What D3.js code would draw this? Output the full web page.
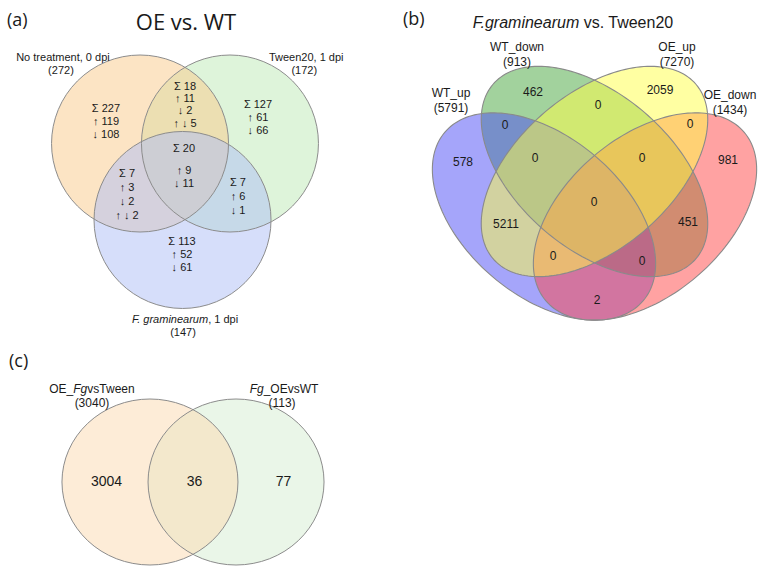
<!DOCTYPE html>
<html>
<head>
<meta charset="utf-8">
<script src="https://cdn.jsdelivr.net/npm/d3@7"></script>
<style>
  html, body { margin: 0; padding: 0; background: #ffffff; }
  svg { display: block; }
  text { font-family: "Liberation Sans", Arial, sans-serif; fill: #1a1a1a; }
  .panel { font-family: "Open Sans", "DejaVu Sans", sans-serif; }
</style>
</head>
<body>
<svg id="chart" width="769" height="575"></svg>
<script>
// ---------------- DATA ----------------
// Panel (a): OE vs. WT, three sets
const setsA = [
  [["No treatment, 0 dpi", false]],
  [["Tween20, 1 dpi", false]],
  [["F. graminearum", true], [", 1 dpi", false]]
];
const setTotalsA = [272, 172, 147];
const regionsA = ["A", "AB", "B", "ABC", "AC", "BC", "C"];
const sumA     = [227, 18, 127, 20, 7, 7, 113];
const upA      = [119, 11, 61, 9, 3, 6, 52];
const downA    = [108, 2, 66, 11, 2, 1, 61];
const upDownA  = [null, 5, null, null, 2, null, null];

// Panel (b): F.graminearum vs. Tween20, four sets
const setsB = ["WT_up", "WT_down", "OE_up", "OE_down"];
const setTotalsB = [5791, 913, 7270, 1434];
const regionsB = ["1", "2", "3", "4", "12", "23", "34", "123", "234", "1234", "13", "24", "134", "124", "14"];
const countsB  = [578, 462, 2059, 981, 0, 0, 0, 0, 0, 0, 5211, 451, 0, 0, 2];

// Panel (c): two sets
const setsC = [
  [["OE_", false], ["Fg", true], ["vsTween", false]],
  [["Fg", true], ["_OEvsWT", false]]
];
const setTotalsC = [3040, 113];
const regionsC = ["1", "12", "2"];
const countsC  = [3004, 36, 77];

// ---------------- LAYOUT ----------------
const svg = d3.select("#chart");
svg.append("rect").attr("width", 769).attr("height", 575).attr("fill", "#ffffff");

function addLabel(g, segs, x, y, size, anchor) {
  const t = g.append("text").attr("x", x).attr("y", y)
    .attr("font-size", size).attr("text-anchor", anchor || "middle");
  segs.forEach(s => t.append("tspan").text(s[0]).attr("font-style", s[1] ? "italic" : "normal"));
  return t;
}

// ===== Panel (a) =====
const gA = svg.append("g");
const xA = d3.scaleLinear().domain([-1, 1]).range([185 - 88.5, 185 + 88.5]);
const yA = d3.scaleLinear().domain([-1, 1]).range([169 - 88.5, 169 + 88.5]);
// drawing order: green, orange, blue
const circlesA = [
  { u:  0.508, v: -0.288, fill: "rgb(189,233,181)" },
  { u: -0.508, v: -0.288, fill: "rgb(249,201,137)" },
  { u: -0.028, v:  0.576, fill: "rgb(173,189,245)" }
];
gA.selectAll("circle.fill").data(circlesA).join("circle")
  .attr("cx", d => xA(d.u)).attr("cy", d => yA(d.v))
  .attr("r", xA(1) - xA(0))
  .attr("fill", d => d.fill).attr("fill-opacity", 0.5).attr("stroke", "none");
gA.selectAll("circle.line").data(circlesA).join("circle")
  .attr("cx", d => xA(d.u)).attr("cy", d => yA(d.v))
  .attr("r", xA(1) - xA(0))
  .attr("fill", "none").attr("stroke", "#8c8c8c").attr("stroke-width", 1);

// region label anchors (unit coordinates) and line gaps
const regionPosA = {
  A:   { u: -0.893, v: -0.644, gaps: [13, 13, 13] },
  AB:  { u:  0.000, v: -0.898, gaps: [12, 12.5, 13] },
  B:   { u:  0.825, v: -0.689, gaps: [13, 13, 13] },
  ABC: { u: -0.011, v: -0.192, gaps: [22, 13, 13] },
  AC:  { u: -0.655, v:  0.090, gaps: [14, 14, 14] },
  BC:  { u:  0.599, v:  0.192, gaps: [14, 14, 14] },
  C:   { u: -0.034, v:  0.864, gaps: [12.5, 13, 13] }
};
regionsA.forEach((r, i) => {
  const p = regionPosA[r];
  const lines = ["\u03A3 " + sumA[i], "\u2191 " + upA[i], "\u2193 " + downA[i]];
  if (upDownA[i] !== null) lines.push("\u2191 \u2193 " + upDownA[i]);
  let y = yA(p.v);
  lines.forEach((ln, k) => {
    if (k > 0) y += p.gaps[k - 1];
    gA.append("text").attr("x", xA(p.u)).attr("y", y)
      .attr("font-size", 11).attr("text-anchor", "middle").text(ln);
  });
});
const setPosA = [
  { u: -1.379, v: -1.221 },
  {  u: 1.370, v: -1.221 },
  {  u: 0.000, v:  1.740 }
];
setsA.forEach((s, i) => {
  const p = setPosA[i];
  addLabel(gA, s, xA(p.u), yA(p.v), 11);
  addLabel(gA, [["(" + setTotalsA[i] + ")", false]], xA(p.u) - 2, yA(p.v) + 13, 11);
});
gA.append("text").attr("class", "panel").attr("x", 7).attr("y", 26)
  .attr("font-size", 18).attr("text-anchor", "start").text("(a)");
gA.append("text").attr("class", "panel").attr("x", 186).attr("y", 30)
  .attr("font-size", 22).attr("text-anchor", "middle").text("OE vs. WT");

// ===== Panel (b) =====
const gB = svg.append("g");
const xB = d3.scaleLinear().domain([0, 1]).range([419.5, 769.5]);
const yB = d3.scaleLinear().domain([0, 1]).range([369.25, 44.25]);
// drawing order: WT_down (green), WT_up (blue), OE_down (red), OE_up (yellow)
const ellipsesB = [
  { set: 1, u: 0.5,    v: 0.6085, a: 0.3956, b: 0.230,  rot: 135, fill: "rgb(70,165,60)" },
  { set: 0, u: 0.3557, v: 0.47,   a: 0.3847, b: 0.2356, rot: 135, fill: "rgb(75,75,245)" },
  { set: 3, u: 0.6443, v: 0.47,   a: 0.3847, b: 0.2356, rot: 45,  fill: "rgb(255,70,70)" },
  { set: 2, u: 0.5,    v: 0.6085, a: 0.3956, b: 0.230,  rot: 45,  fill: "rgb(255,255,70)" }
];
function ellipsePts(e) {
  const th = e.rot * Math.PI / 180;
  return d3.range(0, 360, 2).map(deg => {
    const t = deg * Math.PI / 180;
    const x = e.u + e.a * Math.cos(t) * Math.cos(th) - e.b * Math.sin(t) * Math.sin(th);
    const y = e.v + e.a * Math.cos(t) * Math.sin(th) + e.b * Math.sin(t) * Math.cos(th);
    return [xB(x), yB(y)];
  });
}
const lineB = d3.line().curve(d3.curveLinearClosed);
gB.selectAll("path.fill").data(ellipsesB).join("path")
  .attr("d", d => lineB(ellipsePts(d)))
  .attr("fill", d => d.fill).attr("fill-opacity", 0.5).attr("stroke", "none");
gB.selectAll("path.line").data(ellipsesB).join("path")
  .attr("d", d => lineB(ellipsePts(d)))
  .attr("fill", "none").attr("stroke", "#8a8a8a").attr("stroke-width", 1.1);

const regionPosB = {
  "1":   [0.1243, 0.6377], "2":   [0.3243, 0.8554], "3":   [0.6871, 0.8592], "4":   [0.8814, 0.6438],
  "12":  [0.2443, 0.7515], "23":  [0.5100, 0.8131], "34":  [0.7729, 0.7546],
  "123": [0.3300, 0.6500], "234": [0.6357, 0.6500], "1234":[0.4986, 0.5146],
  "13":  [0.2471, 0.4469], "24":  [0.7671, 0.4531],
  "134": [0.3814, 0.3485], "124": [0.6357, 0.3331], "14":  [0.5071, 0.2131]
};
regionsB.forEach((r, i) => {
  const p = regionPosB[r];
  gB.append("text").attr("x", xB(p[0])).attr("y", yB(p[1]) + 4.3)
    .attr("font-size", 12).attr("text-anchor", "middle").text(countsB[i]);
});
const setPosB = [[0.09, 0.850], [0.2786, 0.9915], [0.7357, 0.9915], [0.8871, 0.8438]];
setsB.forEach((s, i) => {
  const p = setPosB[i];
  gB.append("text").attr("x", xB(p[0])).attr("y", yB(p[1]) + 4.3)
    .attr("font-size", 12).attr("text-anchor", "middle").text(s);
  gB.append("text").attr("x", xB(p[0])).attr("y", yB(p[1]) + 4.3 + 15)
    .attr("font-size", 12).attr("text-anchor", "middle").text("(" + setTotalsB[i] + ")");
});
gB.append("text").attr("class", "panel").attr("x", 403).attr("y", 25)
  .attr("font-size", 18).attr("text-anchor", "start").text("(b)");
addLabel(gB, [["F.graminearum", true], [" vs. Tween20", false]], 573, 28, 16);

// ===== Panel (c) =====
const gC = svg.append("g");
const xC = d3.scaleLinear().domain([-1, 1]).range([193 - 88, 193 + 88]);
const yC = d3.scaleLinear().domain([-1, 1]).range([482 - 83, 482 + 83]);
// drawing order: right (green) first, then left (peach)
const ellipsesC = [
  { u:  0.489, v: 0, fill: "rgb(213,237,209)" },
  { u: -0.489, v: 0, fill: "rgb(251,217,175)" }
];
gC.selectAll("ellipse.fill").data(ellipsesC).join("ellipse")
  .attr("cx", d => xC(d.u)).attr("cy", d => yC(d.v))
  .attr("rx", xC(1) - xC(0)).attr("ry", yC(1) - yC(0))
  .attr("fill", d => d.fill).attr("fill-opacity", 0.5).attr("stroke", "none");
gC.selectAll("ellipse.line").data(ellipsesC).join("ellipse")
  .attr("cx", d => xC(d.u)).attr("cy", d => yC(d.v))
  .attr("rx", xC(1) - xC(0)).attr("ry", yC(1) - yC(0))
  .attr("fill", "none").attr("stroke", "#8c8c8c").attr("stroke-width", 1);
const regionPosC = { "1": [-0.983, -0.012], "12": [0.017, -0.012], "2": [1.028, -0.012] };
regionsC.forEach((r, i) => {
  const p = regionPosC[r];
  gC.append("text").attr("x", xC(p[0])).attr("y", yC(p[1]) + 5)
    .attr("font-size", 14).attr("text-anchor", "middle").text(countsC[i]);
});
const setPosC = [[-1.148, -1.12], [1.034, -1.12]];
setsC.forEach((s, i) => {
  const p = setPosC[i];
  addLabel(gC, s, xC(p[0]), yC(p[1]) + 4, 12);
  addLabel(gC, [["(" + setTotalsC[i] + ")", false]], xC(p[0]) - (i ? 2 : 0), yC(p[1]) + 18, 12);
});
gC.append("text").attr("class", "panel").attr("x", 9).attr("y", 367)
  .attr("font-size", 18).attr("text-anchor", "start").text("(c)");
</script>
</body>
</html>
